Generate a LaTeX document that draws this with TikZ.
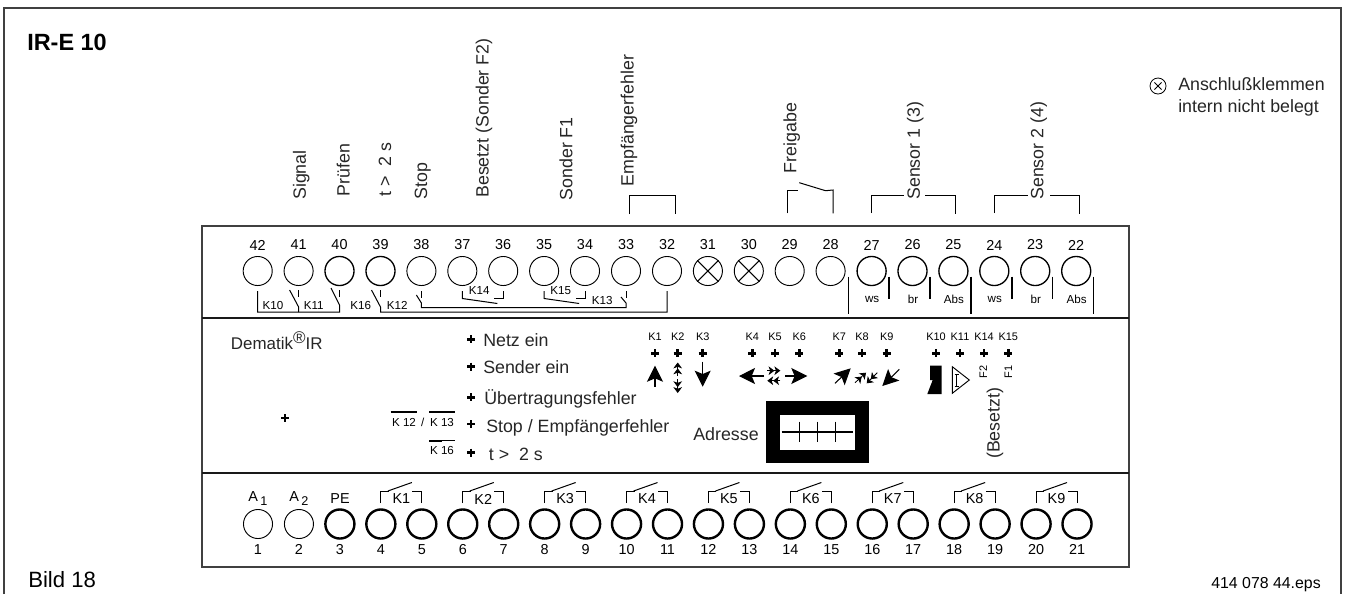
\documentclass[tikz,border=0pt]{standalone}
\usepackage{fontspec}
\setmainfont{Liberation Sans}
\usetikzlibrary{arrows.meta,calc}
\newcommand{\pxfont}[1]{\fontsize{#1}{#1}\selectfont}
\tikzset{
  term/.style={circle,draw,inner sep=0pt,minimum size=21.8pt,line width=.7pt},
  termmid/.style={term,line width=1pt},
  termbold/.style={term,line width=1.8pt},
  numlabel/.style={font=\pxfont{10.8pt},inner sep=0pt},
  wirelabel/.style={font=\pxfont{8.7pt},inner sep=0pt},
  ledlabel/.style={font=\pxfont{8.2pt},inner sep=0pt},
  mainlabel/.style={font=\pxfont{13.35pt},text=black!85,inner sep=0pt},
  wire/.style={line width=.75pt},
  ledplus/.style={line width=1.9pt},
  bigarrow/.style={line width=.8pt,-{Stealth[length=12pt,width=12pt,inset=2.5pt]}},
  tinyarrow/.style={line width=.6pt,-{Stealth[length=4.4pt,width=6.5pt,inset=1.2pt] Stealth[length=4.4pt,width=6.5pt,inset=1.2pt]}}
}
\begin{document}
\begin{tikzpicture}[x=.75pt,y=-.75pt]
  \useasboundingbox (0,0) rectangle (1345,594);
  % Outer frame
  \draw[line width=1.1pt,black!75] (4,594) -- (4,8) -- (1341,8) -- (1341,594);

  % Device housing
  \draw[line width=1.1pt,black!75] (202,226) rectangle (1129,567);
  \draw[line width=2.2pt,black!90] (202,318) -- (1129,318);
  \draw[line width=2.2pt,black!90] (202,473) -- (1129,473);

  % --- TITLES ---
  \node[font=\pxfont{17.6pt}\bfseries,anchor=base west,inner sep=0pt] (title) at (27,50) {IR-E 10};
  \node[font=\pxfont{16.6pt},anchor=base west,inner sep=0pt] (bild) at (28,587) {Bild 18};
  \node[font=\pxfont{11.9pt},anchor=base east,inner sep=0pt] (epsname) at (1321,588) {414 078 44.eps};

  % Legend top right
  \node[circle,draw,inner sep=0pt,minimum size=12pt,line width=.6pt] (legend) at (1158,86) {};
  \draw[line width=.6pt] ($(legend)+(-3.6,-3.6)$) -- ($(legend)+(3.6,3.6)$);
  \draw[line width=.6pt] ($(legend)+(-3.6,3.6)$) -- ($(legend)+(3.6,-3.6)$);
  \node[mainlabel,anchor=base west] (legenda) at (1178,90.5) {Anschlußklemmen};
  \node[mainlabel,anchor=base west] (legendb) at (1178,112.5) {intern nicht belegt};

  % --- TOP TERMINALS 42..22 ---
  \foreach \n/\xx/\kind in {42/257.7/term,41/298.6/term,40/339.5/termmid,39/380.5/termmid,38/421.4/term,37/462.3/term,36/503.2/term,35/544.1/term,34/585/term,33/626/term,32/667/term,31/707.9/term,30/748.8/term,29/789.7/term,28/830.6/term,27/871.6/termmid,26/912.5/termmid,25/953.4/termmid,24/994.3/termmid,23/1035.2/termmid,22/1076.2/termmid}{
    \node[\kind] (t\n) at (\xx,271) {};
    \node[numlabel] (n\n) at (\xx,245) {\n};
  }
  \draw[wire] (t31.45) -- (t31.225) (t31.135) -- (t31.315);
  \draw[wire] (t30.45) -- (t30.225) (t30.135) -- (t30.315);

  % --- BOTTOM TERMINALS 1..21 ---
  \foreach \n [evaluate=\n as \xx using {258+(\n-1)*40.95}] in {1,...,21}{
    \ifnum\n<3 \node[term] (t\n) at (\xx,524) {};
    \else \node[termbold] (t\n) at (\xx,524) {};
    \fi
    \node[numlabel] (n\n) at (\xx,549.5) {\n};
  }
  \node[numlabel] (aone) at (258,499) {A\,\raisebox{-3pt}{\pxfont{9.5pt}1}};
  \node[numlabel] (atwo) at (299,499) {A\,\raisebox{-3pt}{\pxfont{9.5pt}2}};
  \node[numlabel] (pe) at (340,499) {PE};

  % Relay contacts K1..K9
  \foreach \k/\a/\b in {1/4/5,2/6/7,3/8/9,4/10/11,5/12/13,6/14/15,7/16/17,8/18/19,9/20/21}{
    \draw[wire] ($(t\a)+(0,-21)$) -- ($(t\a)+(0,-33)$) -- ($(t\a)+(8,-33)$);
    \draw[wire] ($(t\a)+(7,-33)$) -- ($(t\a)+(31,-41.5)$);
    \draw[wire] ($(t\b)+(0,-21)$) -- ($(t\b)+(0,-33)$) -- ($(t\b)+(-9.5,-33)$);
    \node[numlabel] (kr\k) at ($(t\a)!.5!(t\b)+(0,-25)$) {K\k};
  }

  % --- WIRING BELOW TOP TERMINALS ---
  % K10, K11, K16
  \draw[wire] ($(t42)+(0,20)$) -- ($(t42)+(0,41)$) -- ($(t40)+(0,41)$) -- ($(t40)+(0,34)$) -- ($(t40)+(-8.5,17)$);
  \draw[wire] ($(t40)+(0,19)$) -- ($(t40)+(0,26)$);
  \draw[wire] ($(t41)+(0,19)$) -- ($(t41)+(0,26)$);
  \draw[wire] ($(t41)+(0,41)$) -- ($(t41)+(0,36)$) -- ($(t41)+(-9,19)$);
  % K12
  \draw[wire] ($(t39)+(0,19)$) -- ($(t39)+(0,26)$);
  \draw[wire] ($(t39)+(-9,19)$) -- ($(t39)+(0,36)$) -- ($(t39)+(0,41)$) -- ($(t32)+(0,41)$) -- ($(t32)+(0,20)$);
  % K13
  \draw[wire] ($(t38)+(0,20)$) -- ($(t38)+(0,27)$);
  \draw[wire] ($(t38)+(-5,24)$) -- ($(t38)+(0,32)$) -- ($(t38)+(0,36.5)$) -- ($(t33)+(0,36.5)$) -- ($(t33)+(0,32)$) -- ($(t33)+(-5,26)$);
  \draw[wire] ($(t33)+(0,20)$) -- ($(t33)+(0,27)$);
  % K14, K15
  \foreach \a/\b in {37/36,35/34}{
    \draw[wire] ($(t\a)+(0,20)$) -- ($(t\a)+(0,27.5)$) -- ($(t\a)+(35,32.5)$);
    \draw[wire] ($(t\b)+(0,20)$) -- ($(t\b)+(0,27.5)$) -- ($(t\b)+(-9,27.5)$);
  }
  \node[wirelabel] (kw10) at (273,305.5) {K10};
  \node[wirelabel] (kw11) at (313.7,305.5) {K11};
  \node[wirelabel] (kw16) at (360.7,305) {K16};
  \node[wirelabel] (kw12) at (397.3,305) {K12};
  \node[wirelabel] (kw14) at (479.3,290.7) {K14};
  \node[wirelabel] (kw15) at (560.7,290.7) {K15};
  \node[wirelabel] (kw13) at (602.3,300) {K13};

  % Sensor separators
  \foreach \xx/\yy in {848.3/314.3,889/299,930/299,971/314.3,1012/299,1052.7/299,1093.7/314.3}
    \draw[line width=.9pt] (\xx,276.7) -- (\xx,\yy);
  \foreach \n/\tx in {27/ws,26/br,25/Abs,24/ws,23/br,22/Abs}
    \node[wirelabel] (s\n) at ($(t\n)+(0.5,28)$) {\tx};

  % --- LABELS ABOVE TERMINALS ---
  \node[mainlabel,rotate=90,anchor=west] (lsignal) at (301.3,200) {Signal};
  \node[mainlabel,rotate=90,anchor=west] (lpruefen) at (343.3,196.7) {Prüfen};
  \node[mainlabel,rotate=90,anchor=west] (ltime) at (385,196.7) {t >\ \ 2 s};
  \node[mainlabel,rotate=90,anchor=west] (lstop) at (422.7,199.3) {Stop};
  \node[mainlabel,rotate=90,anchor=west] (lbesetzt) at (484,198) {Besetzt (Sonder F2)};
  \node[mainlabel,rotate=90,anchor=west] (lsonder) at (566,200.7) {Sonder F1};
  \node[mainlabel,rotate=90,anchor=west] (lempf) at (629,186.7) {Empfängerfehler};
  \node[mainlabel,rotate=90,anchor=west] (lfrei) at (791.8,173.3) {Freigabe};
  \node[mainlabel,rotate=90,anchor=west] (lsone) at (915.3,200) {Sensor 1 (3)};
  \node[mainlabel,rotate=90,anchor=west] (lstwo) at (1038.8,200) {Sensor 2 (4)};

  % Brackets
  \draw[wire] (629.3,214) -- (629.3,195.7) -- (675,195.7) -- (675,214);
  \draw[wire] (787,213.3) -- (787,190) -- (798,190);
  \draw[wire] (799.3,182.7) -- (825.5,190.7) -- (833,190) -- (833,213.3);
  \draw[wire] (871.5,213) -- (871.5,195.7) -- (904,195.7);
  \draw[wire] (925.4,195.7) -- (955.7,195.7) -- (955.7,214);
  \draw[wire] (994.6,213) -- (994.6,195.7) -- (1027.6,195.7);
  \draw[wire] (1050,195.7) -- (1079,195.7) -- (1079,214);

  % --- FRONT PANEL ---
  \node[font=\pxfont{12.7pt},text=black!85,anchor=base west,inner sep=0pt] (dematik) at (230.7,349) {Dematik\raisebox{4.5pt}{®}IR};
  \foreach \xx/\yy in {285/418,471/339.3,471/366.7,471/397.3,471/424,471/452.7}
    \draw[ledplus] (\xx-4,\yy) -- (\xx+4,\yy) (\xx,\yy-4) -- (\xx,\yy+4);
  \node[mainlabel,anchor=base west] (lnetz) at (483,346) {Netz ein};
  \node[mainlabel,anchor=base west] (lsender) at (483,373.5) {Sender ein};
  \node[mainlabel,anchor=base west] (luebertr) at (484,404) {Übertragungsfehler};
  \node[mainlabel,anchor=base west] (lstopemp) at (486,432.7) {Stop / Empfängerfehler};
  \node[mainlabel,anchor=base west] (ltwo) at (488.7,460) {t >\ \ 2 s};

  % K12 / K13 / K16 marks
  \draw[line width=1.4pt] (390.7,411.7) -- (416.7,411.7);
  \draw[line width=1.4pt] (429.3,411.7) -- (455,411.7);
  \draw[line width=1.4pt] (429.3,440.7) -- (442,440.7);
  \draw[line width=.6pt] (442,440.7) -- (455,440.7);
  \node[font=\pxfont{8.7pt},inner sep=0pt] (ka) at (404,422.7) {K 12};
  \node[font=\pxfont{8.7pt},inner sep=0pt] (kslash) at (422.7,422.7) {/};
  \node[font=\pxfont{8.7pt},inner sep=0pt] (kb) at (442,422.7) {K 13};
  \node[font=\pxfont{8.7pt},inner sep=0pt] (kc) at (442,450.7) {K 16};

  % LED row
  \foreach \nm/\xx in {K1/655,K2/677.7,K3/702.7,K4/752.3,K5/775,K6/799.3,K7/839.3,K8/862,K9/886.7,K10/936,K11/960,K14/984,K15/1008.3}{
    \node[ledlabel] (led\nm) at (\xx,336.7) {\nm};
    \draw[ledplus] (\xx-4,353.3) -- (\xx+4,353.3) (\xx,349.3) -- (\xx,357.3);
  }
  % Beam arrows
  \draw[bigarrow] (655,386.7) -- (655,365.7);
  \draw[tinyarrow] (677.7,376) -- (677.7,362.5);
  \draw[tinyarrow] (677.7,379) -- (677.7,393);
  \draw[bigarrow] (702.7,361.7) -- (702.7,386.7);
  \draw[bigarrow] (764,376) -- (739,376);
  \draw[tinyarrow] (767.3,370.7) -- (780.3,370.7);
  \draw[tinyarrow] (780.3,380.7) -- (767.3,380.7);
  \draw[bigarrow] (785,376) -- (807.3,376);
  \draw[bigarrow] (835,383.3) -- (850.7,368.3);
  \draw[tinyarrow] (855,382.7) -- (866,372.7);
  \draw[tinyarrow] (877.3,372.7) -- (866.7,383.3);
  \draw[bigarrow] (899.3,369.3) -- (882.3,386);

  % Horn and amplifier
  \fill (930,365.7) -- (941.7,365.7) -- (941.7,394) -- (927.3,394) -- (932.7,380) -- (930,380) -- cycle;
  \draw[line width=.7pt] (952.3,366.7) -- (952.3,393.3) -- (969.3,380) -- cycle;
  \draw[line width=.6pt] (956.7,374) -- (956.7,386) (954.5,374) -- (959,374) (954.5,386) -- (959,386);
  \node[ledlabel,rotate=90] (lftwo) at (983.3,371.7) {F2};
  \node[ledlabel,rotate=90] (lfone) at (1008.3,371.7) {F1};
  \node[mainlabel,rotate=90] (lbes) at (995,423.3) {(Besetzt)};

  % Address switch
  \node[mainlabel] (ladr) at (726,434) {Adresse};
  \fill (765.7,400.7) rectangle (868.7,463.3);
  \fill[white] (780.3,415) rectangle (854.7,450);
  \draw[line width=.8pt] (781.7,432) -- (853.3,432);
  \foreach \xx in {799.3,817.7,835.7}
    \draw[line width=.8pt] (\xx,421.7) -- (\xx,442.3);
\end{tikzpicture}
\end{document}
